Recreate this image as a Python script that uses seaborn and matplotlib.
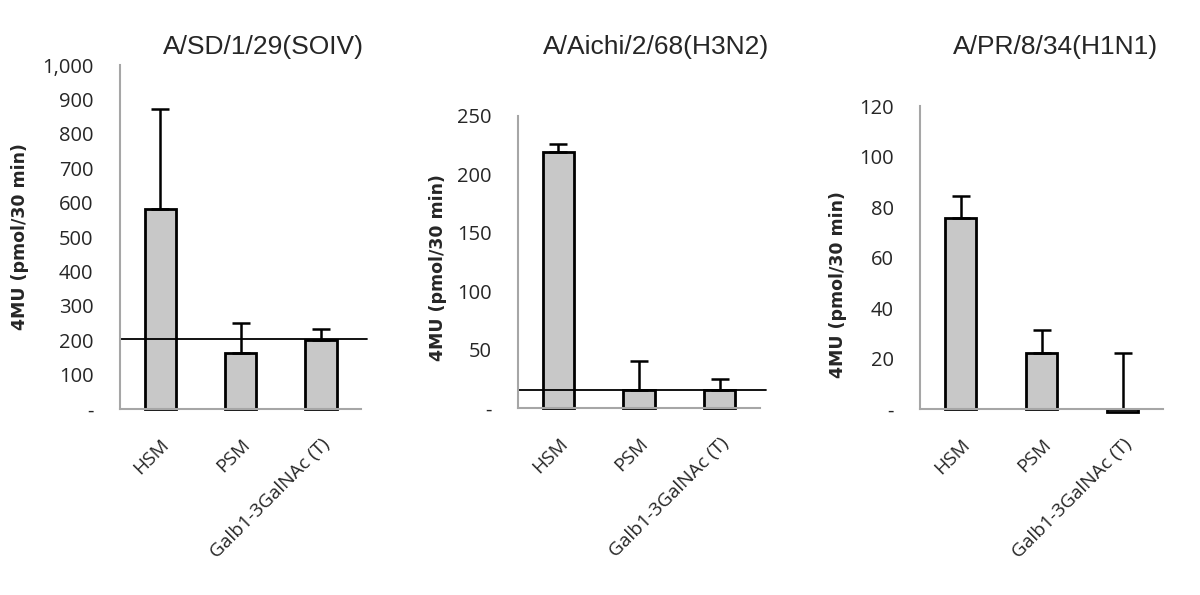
import numpy as np
import pandas as pd
import matplotlib
matplotlib.use("Agg")
import matplotlib.pyplot as plt
import seaborn as sns
from matplotlib.ticker import FixedLocator, FuncFormatter

# data
samples = ["HSM", "PSM", "Galb1-3GalNAc (T)"]
titles = ["A/SD/1/29(SOIV)", "A/Aichi/2/68(H3N2)", "A/PR/8/34(H1N1)"]
sd_vals = [581, 163, 200]
sd_err = [291, 88, 32]
aichi_vals = [219, 15, 15]
aichi_err = [7, 25, 10]
pr_vals = [75.5, 22, -1]
pr_err = [9, 9.5, 23]
baselines = [203, 15, None]
ymax = [1000, 250, 120]
ystep = [100, 50, 20]

sns.set_style("white")
plt.rcParams["font.family"] = ["DejaVu Sans"]

axis_col = "#a6a6a6"
bar_col = "#c8c8c8"


def fmt_tick(v, pos):
    if abs(v) < 1e-9:
        return "-"
    return f"{int(round(v)):,}"


def draw_panel(ax, vals, errs, base, top, step):
    df = pd.DataFrame({"sample": samples, "value": vals})
    sns.barplot(data=df, x="sample", y="value", color=bar_col, width=0.39,
                edgecolor="black", linewidth=2, saturation=1, ax=ax, zorder=1)
    for p in ax.patches:
        p.set_clip_on(False)
    x = np.arange(len(vals))
    ax.errorbar(x, vals, yerr=[np.zeros(len(vals)), errs], fmt="none",
                ecolor="black", elinewidth=1.8, capsize=6.5, capthick=1.8, zorder=3)
    if base is not None:
        ax.axhline(base, xmin=0, xmax=1.025, color="black", lw=1.3, clip_on=False, zorder=4)
    ax.set_xlim(-0.5, 2.5)
    ax.set_ylim(0, top)
    ax.yaxis.set_major_locator(FixedLocator(np.arange(0, top + step / 2, step)))
    ax.yaxis.set_major_formatter(FuncFormatter(fmt_tick))
    ax.set_xticks([-0.5, 0.5, 1.5, 2.5], minor=True)
    ax.set_xticks(x)
    ax.set_xticklabels(samples, rotation=45, ha="right", rotation_mode="anchor",
                       fontsize=13.8, family="Open Sans")
    ax.tick_params(axis="x", which="major", length=0, pad=19)
    ax.tick_params(axis="x", which="minor", length=6, width=1.5, color=axis_col, direction="out")
    ax.tick_params(axis="y", length=7, width=1.5, color=axis_col, direction="out",
                   labelsize=14.5, pad=12)
    for lab in ax.get_yticklabels():
        lab.set_family("Open Sans")
    for side in ["top", "right"]:
        ax.spines[side].set_visible(False)
    for side in ["left", "bottom"]:
        ax.spines[side].set_color(axis_col)
        ax.spines[side].set_linewidth(1.5)
        ax.spines[side].set_zorder(5)
    ax.set_xlabel("")
    ax.set_ylabel("4MU (pmol/30 min)", fontsize=12.5, fontweight="bold")


fig = plt.figure(figsize=(12, 5.95), dpi=100)
rects = [
    [0.100, 0.3126, 0.201, 0.578],
    [0.4317, 0.3143, 0.2017, 0.4908],
    [0.7667, 0.3126, 0.2025, 0.509],
]
all_vals = [sd_vals, aichi_vals, pr_vals]
all_errs = [sd_err, aichi_err, pr_err]
label_pos = [(-0.377, 0.5), (-0.295, 0.48), (-0.30, 0.41)]
title_x = [263, 656, 1056]

for i in range(3):
    ax = fig.add_axes(rects[i])
    draw_panel(ax, all_vals[i], all_errs[i], baselines[i], ymax[i], ystep[i])
    ax.yaxis.set_label_coords(*label_pos[i])
    fig.text(title_x[i] / 1200, 1 - 47 / 595, titles[i], ha="center", va="center",
             fontsize=19, family="Liberation Sans")

fig.savefig("out.png", dpi=100)
